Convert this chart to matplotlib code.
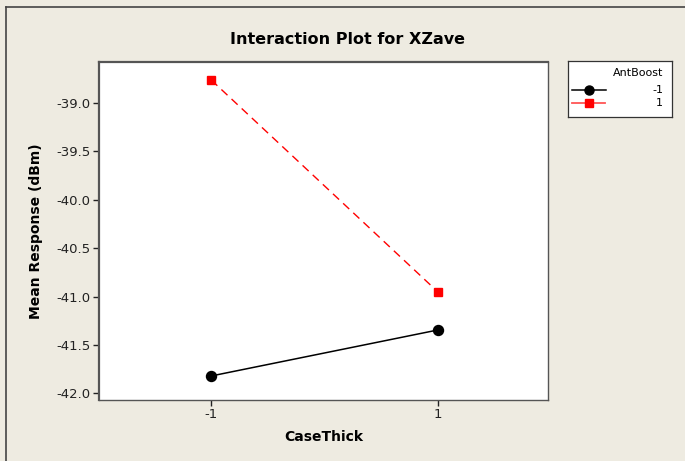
import matplotlib
matplotlib.use("Agg")
import matplotlib.pyplot as plt
from matplotlib.lines import Line2D

case_thick = [-1, 1]
ant_boost_levels = ["-1", "1"]
mean_neg = [-41.82, -41.345]
mean_pos = [-38.766, -40.954]
yticks = [-39.0, -39.5, -40.0, -40.5, -41.0, -41.5, -42.0]

bg = "#EEEBE1"
fig = plt.figure(figsize=(6.85, 4.61), dpi=100, facecolor=bg)
ax = fig.add_axes([99/685, 61/461, (548-99)/685, (400-62)/461])
ax.set_facecolor("white")

ax.plot(case_thick, mean_neg, color="black", lw=1.1, marker="o", ms=7.2,
        label=ant_boost_levels[0])
ax.plot(case_thick, mean_pos, color="#FF0000", lw=1.0, ls=(0, (6, 4)),
        marker="s", ms=6.3, label=ant_boost_levels[1])

ax.set_xlim(-1.99, 1.97)
ax.set_ylim(-42.068, -38.58)
ax.set_xticks(case_thick)
ax.set_xticklabels([str(v) for v in case_thick])
ax.set_yticks(yticks)
ax.set_yticklabels([f"{v:.1f}" for v in yticks])
ax.tick_params(labelsize=9.5, length=4, width=1, colors="#222222", pad=2)
for s in ax.spines.values():
    s.set_color("#555555")
    s.set_linewidth(1.0)
ax.spines["left"].set_linewidth(1.6)
ax.spines["top"].set_linewidth(1.6)

ax.set_xlabel("CaseThick", fontsize=10, fontweight="bold", labelpad=6)
ax.set_ylabel("Mean Response (dBm)", fontsize=10, fontweight="bold", labelpad=10)
fig.text(347/685, 1 - 40/461, "Interaction Plot for XZave",
         ha="center", va="center", fontsize=11.5, fontweight="bold")

# legend box
lax = fig.add_axes([568/685, 1-117/461, (672-568)/685, (117-61)/461])
lax.set_xlim(0, 104)
lax.set_ylim(56, 0)
lax.set_facecolor("white")
lax.set_xticks([])
lax.set_yticks([])
for s in lax.spines.values():
    s.set_color("#333333")
    s.set_linewidth(0.9)
lax.text(95, 12, "AntBoost", ha="right", va="center", fontsize=8)
lax.plot([4, 38], [29, 29], color="black", lw=1.1)
lax.plot([21], [29], marker="o", color="black", ms=6.5)
lax.plot([4, 37], [42, 42], color="#FF5555", lw=1.3)
lax.plot([21], [42], marker="s", color="#FF0000", ms=6)
lax.text(95, 29, ant_boost_levels[0], ha="right", va="center", fontsize=8)
lax.text(95, 42, ant_boost_levels[1], ha="right", va="center", fontsize=8)

# outer frame lines (top and left)
fig.add_artist(Line2D([6/685, 6/685], [0, 1-7/461], color="#444444", lw=1.2,
                      transform=fig.transFigure))
fig.add_artist(Line2D([6/685, 1], [1-7/461, 1-7/461], color="#444444", lw=1.2,
                      transform=fig.transFigure))

fig.savefig("out.png", dpi=100, facecolor=bg)
